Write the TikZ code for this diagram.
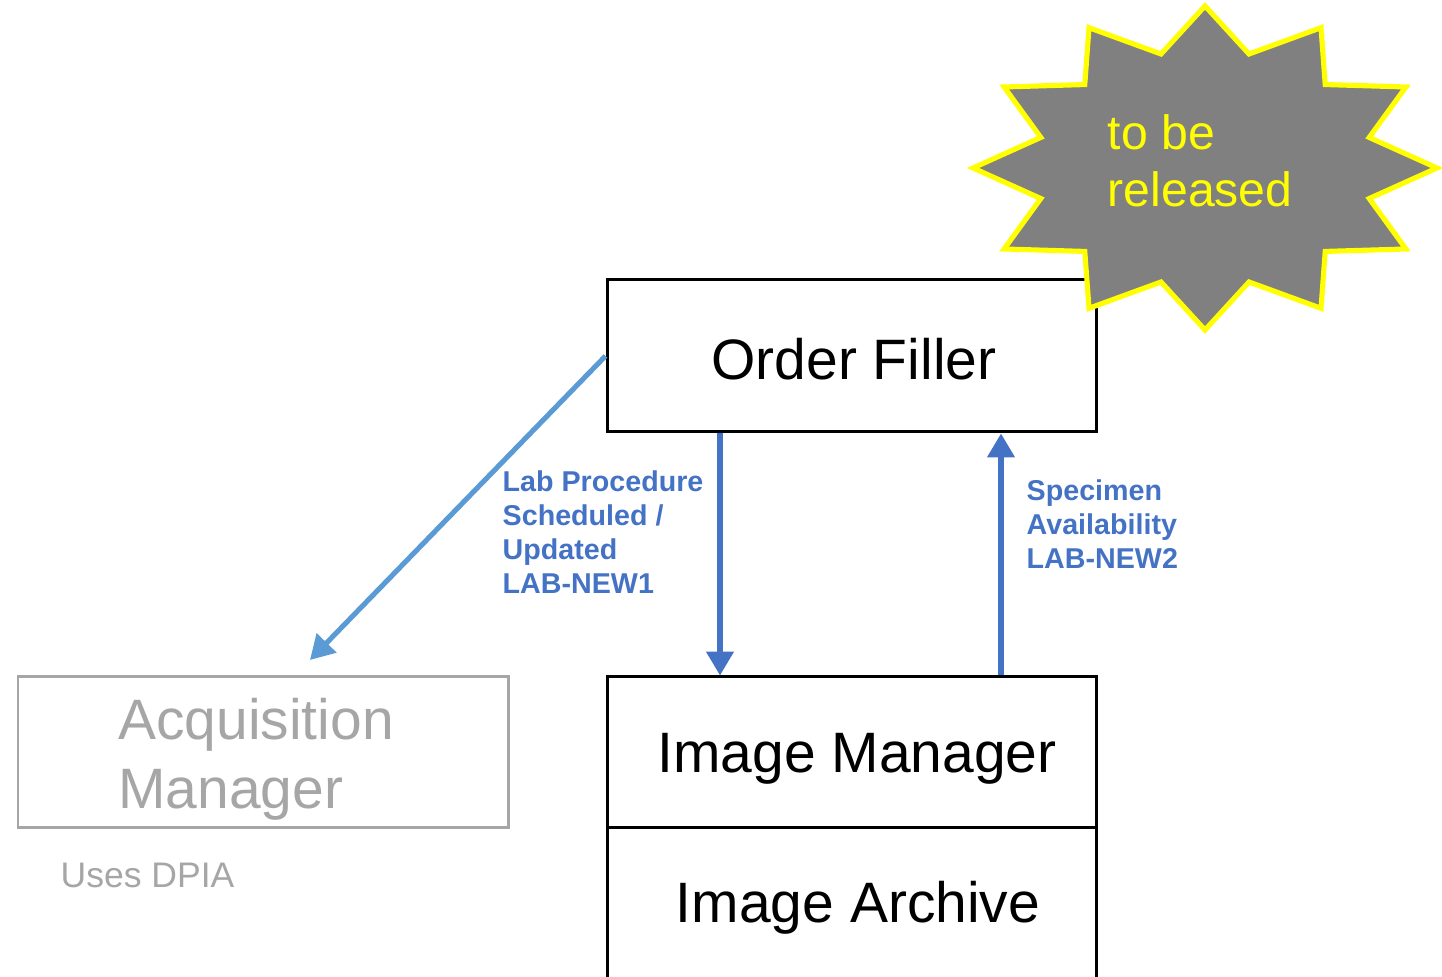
\documentclass[tikz,border=0pt]{standalone}
\usepackage{fontspec}
\setmainfont{Liberation Sans}
\usetikzlibrary{arrows.meta,calc}
\definecolor{arrblue}{HTML}{4472C4}
\definecolor{diagblue}{HTML}{5B9BD5}
\definecolor{lightgray}{HTML}{A6A6A6}
\definecolor{stargray}{HTML}{808080}
\definecolor{staryellow}{HTML}{FFFF00}
\tikzset{
  actor/.style={draw=black, line width=0.85pt, rectangle, inner sep=0pt},
  actortext/.style={inner sep=0pt, anchor=base, font=\fontsize{16.2}{19.6}\selectfont},
  grayactor/.style={draw=lightgray, line width=0.85pt, rectangle, inner sep=0pt},
  flow/.style={draw=arrblue, line width=1.45pt, -{Triangle[length=6.8pt,width=7.6pt]}},
  diagflow/.style={draw=diagblue, line width=1.45pt, -{Triangle[length=6.8pt,width=7.6pt]}},
  lbl/.style={text=arrblue, font=\fontsize{8.15}{9.7}\selectfont\bfseries, align=left, inner sep=0pt, anchor=west},
}
\begin{document}
\begin{tikzpicture}[x=0.01cm,y=-0.01cm]
\useasboundingbox (0,0) rectangle (1442,977);
\clip (0,0) rectangle (1442,977);

% boxes
\node[actor, minimum width=489*0.01cm, minimum height=152*0.01cm] (of) at (851.5,356) {};
\node[actortext] (oftext) at (854,380) {Order Filler};
\node[actor, minimum width=489*0.01cm, minimum height=151*0.01cm] (im) at (851.5,752.5) {};
\node[actortext] (imtext) at (857,773) {Image Manager};
\node[actor, minimum width=489*0.01cm, minimum height=162*0.01cm] (ia) at (851.5,909) {};
\node[actortext] (iatext) at (858,923) {Image Archive};
\node[grayactor, minimum width=490*0.01cm, minimum height=151*0.01cm] (acq) at (263,752.5) {};
\node[text=lightgray, font=\fontsize{16.2}{19.6}\selectfont, align=left, inner sep=0pt] (acqtext) at (256,759) {Acquisition\\Manager};
\node[text=lightgray, font=\fontsize{10.1}{12}\selectfont, inner sep=0pt, anchor=base west] (dpia) at (60,888) {Uses DPIA};

% star
\coordinate (sc) at (1205,168);
\filldraw[fill=stargray, draw=staryellow, line width=1.45pt, line join=miter]
  ($(sc)+(90:232 and 162)$)
  \foreach \k in {0,...,11} {
    -- ($(sc)+({90+30*\k+15}:170 and 118)$) -- ($(sc)+({90+30*\k+30}:232 and 162)$)
  } -- cycle;
\node[text=staryellow, font=\fontsize{13.7}{16.2}\selectfont, align=left, inner sep=0pt, anchor=west] (star) at (1107,161) {to be\\released};

% connectors
\coordinate (dx) at (720,0);
\coordinate (ux) at (1001,0);
\coordinate (acqtip) at (310,660);
\draw[flow] (of.south -| dx) -- (im.north -| dx);
\draw[flow] (im.north -| ux) -- (of.south -| ux);
\draw[diagflow] (of.west) -- (acqtip);

% labels
\node[lbl] (l1) at (502,532) {Lab Procedure\\Scheduled /\\Updated\\LAB-NEW1};
\node[lbl] (l2) at (1026,524) {Specimen\\Availability\\LAB-NEW2};
\end{tikzpicture}
\end{document}
